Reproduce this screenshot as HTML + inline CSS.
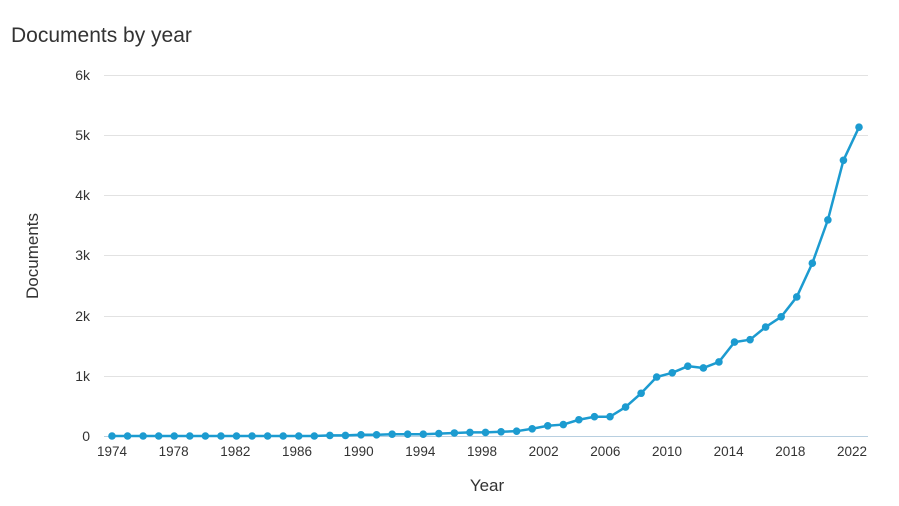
<!DOCTYPE html>
<html><head><meta charset="utf-8"><style>
body{margin:0;background:#fff;font-family:"Liberation Sans",sans-serif;}
</style></head><body>
<svg width="899" height="501" xmlns="http://www.w3.org/2000/svg" font-family="Liberation Sans, sans-serif">
<text x="11" y="42" font-size="21" fill="#333">Documents by year</text>
<g stroke="#e2e2e2" stroke-width="1">
<line x1="104" y1="75.5" x2="868" y2="75.5"/>
<line x1="104" y1="135.5" x2="868" y2="135.5"/>
<line x1="104" y1="195.5" x2="868" y2="195.5"/>
<line x1="104" y1="255.5" x2="868" y2="255.5"/>
<line x1="104" y1="316.5" x2="868" y2="316.5"/>
<line x1="104" y1="376.5" x2="868" y2="376.5"/>
</g>
<line x1="104" y1="436.5" x2="868" y2="436.5" stroke="#b8cfe0" stroke-width="1"/>
<g font-size="14" fill="#333" text-anchor="end">
<text x="90" y="80">6k</text><text x="90" y="140">5k</text><text x="90" y="200">4k</text>
<text x="90" y="260">3k</text><text x="90" y="321">2k</text><text x="90" y="381">1k</text>
<text x="90" y="441">0</text>
</g>
<g font-size="13.5" fill="#333" text-anchor="middle" id="xl"></g>
<text x="487" y="491" font-size="17" fill="#333" text-anchor="middle">Year</text>
<text transform="translate(38,256) rotate(-90)" font-size="17" fill="#333" text-anchor="middle">Documents</text>
<polyline id="ln" fill="none" stroke="#1c9bd0" stroke-width="2.5" stroke-linejoin="round"/>
<g id="pts" fill="#1c9bd0"></g>
</svg>
<script>
var v2=[0,0,0,0,0,0,0,0,0,0,0,0,0,0,0.01,0.01,0.02,0.02,0.03,0.03,0.03,0.04,0.05,0.06,0.06,0.07,0.08,0.12,0.17,0.19,0.27,0.32,0.32,0.48,0.71,0.98,1.05,1.16,1.13,1.23,1.56,1.6,1.81,1.98,2.31,2.87,3.59,4.58,5.13];
var ns="http://www.w3.org/2000/svg",p=[],g=document.getElementById('pts');
var n=v2.length,x0=112,x1=859;
for(var i=0;i<n;i++){var x=x0+(x1-x0)*i/(n-1),y=436-v2[i]*60.2;p.push(x+','+y);
var c=document.createElementNS(ns,'circle');c.setAttribute('cx',x);c.setAttribute('cy',y);c.setAttribute('r',3.8);g.appendChild(c);}
document.getElementById('ln').setAttribute('points',p.join(' '));
var xl=document.getElementById('xl');
for(var yr=1974;yr<=2022;yr+=4){var t=document.createElementNS(ns,'text');t.setAttribute('x',112+(852-112)*(yr-1974)/48);t.setAttribute('y',456);t.textContent=yr;xl.appendChild(t);}
</script>
</body></html>
